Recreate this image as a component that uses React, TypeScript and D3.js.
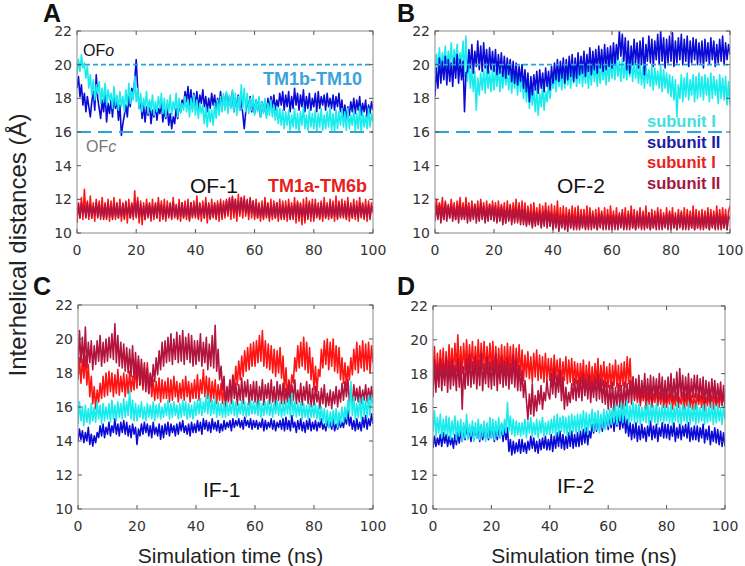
import React from 'react';
import * as d3 from 'd3';

// ---------- data (Å), sampled every 0.5 ns, t = 0..100 ----------
const Y_TICKS = [10, 12, 14, 16, 18, 20, 22];
const X_TICKS = [0, 20, 40, 60, 80, 100];
const OF_OPEN = 20;
const OF_CLOSED = 16;

// OF-1
const A_cyan = [19.4,20.3,19.6,20.6,19.8,20.1,19.2,19.9,18.6,19.4,18.2,19.1,17.9,18.8,18.3,19.0,17.7,18.6,17.8,18.9,
17.6,18.5,17.9,18.3,17.4,18.7,17.6,18.2,17.3,18.4,17.5,18.1,17.2,18.5,17.6,18.9,17.7,18.4,17.9,19.3,
17.8,18.6,17.4,18.3,17.2,18.0,17.5,18.4,17.1,17.9,17.3,18.2,17.0,17.8,17.2,18.1,17.4,18.3,17.1,18.0,
16.9,17.9,17.2,18.2,17.0,17.8,17.3,18.3,16.9,18.0,17.1,17.7,17.3,18.1,17.2,17.9,16.9,18.0,17.2,18.2,
17.0,17.9,16.8,17.7,17.1,17.6,16.5,17.5,16.3,17.4,16.6,17.3,16.4,17.7,16.8,17.9,17.0,18.1,17.2,18.3,
17.3,18.4,17.1,18.2,17.4,18.5,17.2,18.3,17.0,18.1,17.3,18.8,17.4,18.6,17.2,18.3,17.1,18.0,17.3,18.2,
17.0,17.9,17.2,18.1,16.9,17.8,17.1,18.0,16.8,17.7,17.0,17.9,16.9,17.6,16.7,17.5,16.5,17.4,16.4,17.3,
16.2,17.2,16.4,17.3,16.1,17.0,16.3,17.4,16.2,17.1,16.0,17.2,16.4,17.5,16.2,17.0,16.1,17.3,16.3,17.1,
16.2,17.3,16.0,17.1,16.3,17.4,16.1,17.0,16.2,17.2,16.3,17.5,16.1,17.1,16.0,17.3,16.2,17.2,16.4,17.4,
16.3,17.2,16.1,17.4,16.2,17.0,16.4,17.3,16.1,17.1,16.2,17.5,16.0,17.2,16.3,17.0,16.2,17.4,16.3,17.1,
16.6];
const A_blue = [18.6,19.3,18.1,18.8,17.6,18.3,17.2,18.1,17.5,16.9,17.8,18.4,17.3,19.4,18.0,17.4,16.8,17.9,17.2,18.3,
16.6,17.7,17.1,17.9,16.9,18.2,17.4,18.0,16.7,17.6,15.8,16.5,17.0,17.6,16.9,18.1,17.5,18.6,18.2,19.1,
20.3,18.6,17.4,17.9,16.8,17.6,16.6,17.5,17.0,17.8,16.5,17.3,16.9,17.6,16.7,17.4,17.1,17.8,16.6,17.3,
16.8,17.5,16.4,17.1,16.2,16.9,16.5,17.4,16.8,17.7,17.2,17.9,17.5,18.4,17.8,18.7,17.6,18.5,17.4,18.3,
17.6,18.4,17.3,18.2,17.7,18.5,17.5,18.1,17.2,18.0,17.4,18.3,17.6,18.2,17.3,18.0,17.5,18.4,17.4,18.1,
17.6,18.3,17.3,18.1,17.5,18.4,17.2,18.0,17.4,18.2,17.3,17.9,17.1,16.2,17.2,17.9,17.4,18.1,17.2,17.8,
17.1,17.9,17.3,18.0,16.9,17.8,17.2,17.9,17.0,18.0,17.3,18.1,17.4,18.2,17.3,17.9,17.5,18.3,17.6,18.4,
17.3,18.2,17.5,18.4,17.2,18.1,17.4,18.6,17.6,18.3,17.3,18.2,17.5,18.5,17.2,18.1,17.4,18.3,17.3,18.0,
17.5,18.3,17.2,18.4,17.4,18.1,17.6,18.2,17.3,18.3,17.5,18.0,17.4,18.2,17.3,18.1,17.5,18.3,17.2,17.9,
16.9,17.6,16.7,17.5,17.0,17.8,17.2,18.0,17.1,17.9,17.3,18.1,17.0,17.7,17.2,17.9,16.9,17.6,17.1,17.8,
17.3];
const A_red = [10.6,11.8,10.9,12.1,10.8,12.6,11.0,11.9,10.8,12.2,10.9,11.8,10.7,12.0,11.0,11.9,10.8,12.1,10.9,11.8,
10.8,12.0,10.7,11.9,10.9,12.1,10.8,11.7,10.9,12.0,10.7,11.8,10.8,11.9,10.6,12.0,10.9,11.8,10.8,12.5,
10.9,12.1,10.6,11.9,10.5,11.8,10.8,12.0,10.9,11.7,10.7,12.0,10.8,11.8,10.9,12.1,10.7,11.9,10.8,12.0,
10.7,11.9,10.9,11.8,10.8,12.1,10.9,11.7,10.8,12.0,10.7,11.8,10.9,11.9,10.8,12.0,10.7,11.8,10.9,11.9,
10.9,12.2,10.8,11.8,10.7,11.9,10.9,12.1,10.6,11.8,10.8,12.0,10.9,11.7,10.8,11.9,10.7,12.0,10.8,11.9,
10.9,12.0,11.0,12.1,10.8,12.2,10.9,12.0,10.7,12.3,11.0,12.1,10.9,12.2,11.0,12.0,10.8,12.1,10.9,11.9,
10.8,12.0,10.9,11.8,10.7,11.9,10.8,12.1,10.9,11.8,10.7,12.0,10.8,11.9,10.9,11.8,10.7,12.0,10.8,11.9,
10.8,11.9,10.7,12.0,10.9,11.8,10.8,12.1,10.6,11.9,10.7,11.8,10.5,12.0,10.6,12.1,10.8,11.9,10.7,12.0,
10.7,12.0,10.9,11.8,10.8,11.9,10.7,12.1,10.9,11.8,10.8,12.0,10.9,11.9,10.7,12.2,10.8,11.9,10.9,12.0,
10.9,11.9,10.8,12.1,10.7,11.8,10.9,12.0,10.8,11.9,10.7,12.1,10.9,11.8,10.8,12.0,10.7,11.9,10.8,11.8,
11.2];
const A_darkred = [11.0,11.7,10.9,11.8,11.1,11.6,10.9,11.8,11.0,11.7,10.9,11.6,11.1,11.8,10.9,11.7,11.0,11.6,10.8,11.7,
10.9,11.8,11.0,11.6,10.8,11.7,11.0,11.8,10.9,11.6,11.0,11.7,10.9,11.8,11.1,11.6,10.9,11.7,11.0,11.8,
11.0,11.9,10.9,11.7,11.0,11.6,10.8,11.7,11.0,11.8,10.9,11.6,11.0,11.7,10.9,11.8,11.1,11.7,10.9,11.6,
10.9,11.6,11.0,11.7,10.9,11.8,11.0,11.6,10.9,11.7,11.0,11.8,10.9,11.6,11.0,11.7,10.8,11.8,11.0,11.6,
11.0,11.8,10.9,11.7,11.1,11.6,10.9,11.8,11.0,11.7,10.9,11.6,11.0,11.8,10.9,11.7,11.1,11.8,11.0,11.7,
11.1,11.9,11.2,12.0,11.3,12.1,11.2,12.0,11.1,11.9,11.2,12.1,11.3,12.0,11.2,11.9,11.1,12.0,11.2,11.9,
11.0,11.8,10.9,11.7,11.0,11.6,10.9,11.8,11.0,11.7,10.9,11.6,11.0,11.7,10.9,11.8,11.0,11.6,10.9,11.7,
10.9,11.6,11.0,11.7,10.8,11.6,10.9,11.7,11.0,11.8,10.9,11.7,11.0,11.6,10.8,11.7,10.9,11.8,11.0,11.7,
10.9,11.7,11.0,11.6,10.9,11.8,11.0,11.7,10.9,11.6,11.0,11.8,10.9,11.7,11.0,11.6,10.9,11.8,11.0,11.7,
11.0,11.7,10.9,11.8,11.0,11.6,10.9,11.7,11.0,11.6,10.9,11.8,11.0,11.7,10.9,11.6,11.0,11.7,10.9,11.6,
11.3];

// OF-2
const B_cyan = [19.5,20.6,19.8,21.0,19.6,20.7,20.0,21.1,19.7,20.8,19.9,21.3,19.6,20.9,20.1,21.2,19.8,20.7,20.0,21.4,
19.3,21.7,19.0,20.3,18.6,19.8,18.4,19.6,17.3,19.2,18.2,19.5,18.5,19.7,18.3,19.9,18.6,19.6,18.4,19.8,
18.5,19.7,18.7,19.9,18.4,19.6,18.6,19.8,18.8,19.6,18.5,19.7,18.3,19.5,18.6,19.4,18.2,19.5,18.4,19.3,
18.0,19.1,17.8,18.9,17.4,18.7,17.6,18.5,17.2,18.6,17.0,18.3,17.5,18.8,17.3,18.4,17.8,18.9,18.0,19.0,
18.6,19.5,18.4,19.7,18.7,19.6,18.5,19.8,18.6,19.9,18.8,19.7,18.6,19.8,18.9,20.0,18.7,19.8,18.9,20.1,
18.7,19.8,18.9,20.1,18.6,19.9,18.8,20.2,19.0,20.0,18.7,19.9,18.9,20.2,19.1,20.0,18.8,20.1,19.0,20.3,
19.2,20.3,19.1,20.5,19.3,20.2,19.0,20.4,19.2,20.1,19.1,20.3,19.3,20.4,19.0,20.2,19.2,20.0,18.9,20.1,
18.8,19.9,18.6,20.0,18.9,19.7,18.7,19.9,18.5,19.8,18.8,19.6,18.6,19.9,18.4,19.7,18.6,19.5,18.3,19.4,
18.1,19.3,17.9,19.1,16.9,18.8,18.0,19.4,17.8,19.2,18.1,19.5,17.9,19.1,18.2,19.4,17.8,19.3,18.0,19.5,
18.1,19.3,17.9,19.4,18.2,19.2,17.8,19.5,18.0,19.3,18.2,19.1,17.7,19.4,18.0,19.2,17.9,19.3,17.6,19.0,
17.6];
const B_blue = [18.1,19.8,18.6,20.4,18.9,20.2,19.1,20.5,18.8,20.3,19.0,20.1,18.7,20.4,19.2,20.6,18.9,20.3,19.1,20.2,
17.2,19.5,19.6,20.9,19.8,21.2,19.5,20.8,19.9,21.4,19.7,21.1,19.6,21.3,19.8,20.9,19.5,21.0,19.7,20.8,
19.6,20.9,19.4,20.6,19.5,20.7,19.3,20.5,19.2,20.4,19.4,20.3,19.0,20.2,18.9,20.1,18.8,19.9,19.0,20.0,
18.6,19.7,18.4,19.5,17.8,19.3,18.2,19.4,18.5,19.6,18.3,19.7,18.6,19.5,18.4,19.8,18.7,19.6,18.5,19.9,
18.9,20.1,19.1,20.3,19.0,20.2,19.2,20.4,18.9,20.3,19.1,20.5,19.3,20.6,19.0,20.4,19.2,20.7,19.4,20.5,
19.5,20.8,19.3,20.6,19.6,21.0,19.4,20.8,19.7,20.9,19.5,21.1,19.8,20.9,19.6,21.2,19.7,21.0,19.9,21.1,
19.8,21.3,20.0,21.2,20.3,22.0,20.5,21.8,20.2,21.6,19.7,21.4,19.5,21.1,20.0,21.5,20.1,21.3,19.8,21.4,
20.0,21.6,19.4,21.2,20.2,21.7,20.1,21.5,19.9,21.4,20.3,21.8,20.0,22.0,20.2,21.6,19.8,21.5,20.1,21.7,
20.2,21.9,19.9,21.4,20.1,21.6,20.3,21.8,20.0,21.5,20.2,21.7,19.9,21.4,20.1,21.6,20.3,21.5,20.0,21.3,
20.1,21.4,19.8,21.5,20.2,21.3,20.0,21.6,20.3,21.4,19.9,21.2,20.1,21.5,20.2,21.7,20.0,21.3,20.3,21.2,
20.6];
const B_red = [11.3,12.0,10.9,11.8,11.1,12.1,10.8,11.9,11.0,11.7,10.9,12.0,11.1,11.8,10.8,11.9,11.0,12.1,10.9,11.8,
10.9,12.1,11.0,11.8,10.8,11.9,10.9,11.7,11.0,11.9,10.8,12.0,10.9,11.8,10.7,11.9,10.9,11.7,10.8,11.9,
10.9,11.8,10.7,11.9,10.8,11.7,10.9,11.8,10.6,11.9,10.8,11.7,10.7,11.8,10.9,12.0,10.6,11.8,10.7,11.9,
10.7,11.8,10.5,11.6,10.6,11.7,10.4,11.8,10.6,11.5,10.5,11.7,10.4,11.6,10.6,11.8,10.5,11.6,10.4,11.7,
10.3,11.6,10.5,11.9,10.2,11.5,10.4,11.6,10.3,11.5,10.5,11.4,10.3,11.6,10.4,11.5,10.2,11.6,10.3,11.4,
10.4,11.4,10.3,11.6,10.2,11.5,10.4,11.3,10.3,11.4,10.2,11.5,10.4,11.3,10.3,11.5,10.2,11.4,10.3,11.6,
10.4,11.3,10.2,11.5,10.3,11.2,10.4,11.4,10.3,11.5,10.2,11.3,10.4,11.6,10.3,11.4,10.2,11.3,10.4,11.5,
10.2,11.3,10.4,11.6,10.3,11.2,10.2,11.4,10.3,11.3,10.4,11.5,10.2,11.4,10.3,11.2,10.4,11.5,10.3,11.3,
10.4,11.5,10.3,11.2,10.2,11.4,10.4,11.3,10.3,11.5,10.2,11.4,10.4,11.3,10.3,11.6,10.2,11.4,10.3,11.3,
10.2,11.4,10.4,11.3,10.3,11.5,10.2,11.4,10.4,11.3,10.3,11.6,10.2,11.4,10.4,11.5,10.3,11.4,10.2,11.3,
11.6];
const B_darkred = [10.7,11.6,10.8,11.7,10.6,11.5,10.8,11.8,10.7,11.6,10.9,11.7,10.7,11.5,10.8,11.6,10.6,11.7,10.8,11.5,
10.8,11.7,10.6,11.5,10.7,11.6,10.8,11.7,10.6,11.5,10.7,11.8,10.8,11.6,10.6,11.5,10.7,11.7,10.8,11.6,
10.7,11.6,10.6,11.5,10.7,11.6,10.5,11.4,10.6,11.5,10.7,11.6,10.5,11.4,10.6,11.5,10.7,11.6,10.5,11.4,
10.5,11.4,10.4,11.3,10.5,11.2,10.3,11.3,10.4,11.2,10.5,11.3,10.3,11.2,10.4,11.4,10.3,11.3,10.4,11.2,
10.2,11.1,10.3,11.2,10.1,11.0,10.3,11.1,10.2,11.0,10.1,11.2,10.3,11.1,10.2,11.0,10.3,11.2,10.2,11.1,
10.3,11.1,10.2,11.0,10.3,11.2,10.2,11.1,10.3,11.0,10.2,11.1,10.3,11.2,10.2,11.0,10.3,11.1,10.2,11.0,
10.2,11.1,10.3,11.0,10.2,11.1,10.3,11.2,10.2,11.0,10.3,11.1,10.2,11.2,10.3,11.0,10.2,11.1,10.3,11.2,
10.3,11.1,10.2,11.0,10.3,11.2,10.2,11.1,10.3,11.0,10.2,11.2,10.3,11.1,10.2,11.0,10.3,11.1,10.2,11.2,
10.2,11.1,10.3,11.0,10.2,11.1,10.3,11.2,10.2,11.0,10.3,11.1,10.2,11.0,10.3,11.2,10.2,11.1,10.3,11.0,
10.3,11.1,10.2,11.0,10.3,11.2,10.2,11.1,10.3,11.0,10.2,11.2,10.3,11.1,10.2,11.0,10.3,11.1,10.2,11.0,
10.8];

// IF-1
const C_cyan = [15.0,16.3,15.2,16.0,14.9,16.1,15.1,15.9,15.0,16.2,15.2,16.0,15.1,16.3,15.3,16.1,15.0,16.2,15.2,16.0,
15.3,16.2,15.1,16.4,15.3,16.1,15.2,16.3,15.4,16.2,15.3,16.5,15.4,16.3,15.5,17.0,15.3,16.4,15.2,16.2,
15.2,16.1,15.4,16.3,15.3,16.0,15.2,16.2,15.4,16.1,15.3,16.3,15.2,16.1,15.4,16.2,15.3,16.0,15.4,16.2,
15.5,16.4,15.3,16.2,15.4,16.3,15.5,16.1,15.3,16.2,15.4,16.4,15.5,16.3,15.3,16.2,15.4,16.1,15.3,16.3,
15.5,16.4,15.6,16.5,15.5,16.3,15.7,16.8,15.6,16.6,15.5,16.4,15.6,16.5,15.4,16.3,15.5,16.2,15.4,16.3,
15.4,16.3,15.5,16.2,15.6,16.4,15.5,16.3,15.4,16.2,15.6,16.4,15.5,16.3,15.4,16.2,15.5,16.4,15.6,16.3,
15.6,16.3,15.5,16.4,15.4,16.2,15.5,16.3,15.6,16.4,15.5,16.2,15.4,16.3,15.6,16.4,15.5,16.3,15.4,16.2,
15.5,16.4,15.6,16.5,15.4,16.8,15.5,16.3,15.4,16.2,15.5,16.3,15.3,16.2,15.4,16.1,15.3,16.2,15.4,16.1,
15.4,16.2,15.3,16.1,15.2,16.0,15.1,15.9,14.9,15.8,14.8,15.7,14.9,15.8,15.0,15.9,14.8,15.7,15.0,16.0,
15.1,16.0,15.3,16.4,15.6,17.5,15.5,16.6,15.3,16.2,15.4,16.5,15.3,16.6,15.5,16.4,15.4,16.7,15.5,16.6,
16.2];
const C_blue = [14.0,14.7,14.1,14.6,13.9,14.5,14.0,14.8,13.8,14.4,13.7,14.3,13.9,14.5,14.2,14.9,14.3,15.0,14.2,14.8,
14.4,15.1,14.3,14.9,14.5,15.3,14.4,15.0,14.3,15.1,14.5,15.2,14.4,15.1,14.3,14.9,14.2,15.0,14.4,14.8,
13.8,14.7,14.3,15.0,14.4,15.1,14.5,15.0,14.3,14.9,14.2,15.1,14.4,14.8,14.3,15.0,14.1,14.9,14.2,15.0,
14.4,15.1,14.3,15.0,14.5,14.9,14.3,15.0,14.4,15.1,14.6,15.2,14.5,14.9,14.4,15.0,14.3,15.1,14.5,15.0,
14.5,15.2,14.6,15.1,14.4,15.3,14.7,15.2,14.6,15.1,14.5,15.3,14.7,15.1,14.6,15.2,14.5,15.0,14.6,15.2,
14.7,15.1,14.8,15.2,14.6,15.3,14.8,15.2,14.9,15.3,14.8,15.2,14.7,15.4,14.9,15.2,14.8,15.3,14.7,15.2,
14.8,15.2,14.7,15.1,14.8,15.3,14.6,15.2,14.7,15.1,14.8,15.3,14.7,15.2,14.6,15.1,14.8,15.2,14.7,15.3,
14.6,15.4,14.7,15.2,14.6,15.5,14.8,15.1,14.5,15.2,14.7,15.3,14.6,15.1,14.5,15.2,14.7,15.3,14.6,15.1,
14.7,15.2,14.6,15.1,14.8,15.3,14.7,15.0,14.6,15.2,14.8,15.1,14.7,15.3,14.6,15.0,14.7,15.2,14.8,15.1,
14.8,15.4,15.0,15.8,14.9,15.4,14.7,15.2,14.6,15.3,14.7,15.1,14.6,15.4,14.8,15.5,14.7,15.3,14.9,15.6,
15.0];
const C_red = [17.6,18.9,17.4,18.8,17.7,19.0,17.3,18.5,16.6,17.8,16.2,17.2,15.9,17.0,16.3,17.4,16.5,17.8,16.6,18.0,
16.7,18.1,16.9,18.0,16.6,17.9,16.8,18.2,16.7,17.8,16.9,18.0,16.6,17.9,16.8,18.1,16.9,17.8,17.0,18.3,
17.1,18.8,17.3,18.5,17.0,18.3,17.2,18.6,16.8,17.9,16.6,17.6,16.4,17.5,16.5,17.7,16.3,17.6,16.5,17.5,
16.5,17.7,16.3,17.6,16.4,17.8,16.6,17.5,16.3,17.4,16.5,17.6,16.4,17.8,16.6,17.5,16.3,17.4,16.5,17.6,
16.5,17.9,16.4,17.6,16.8,18.2,16.6,17.8,16.5,17.7,16.3,17.5,16.5,17.6,16.2,17.3,16.4,17.4,16.2,17.2,
16.1,17.1,16.3,17.5,16.6,17.9,17.0,18.4,17.3,18.7,17.6,19.0,17.8,19.3,18.1,19.5,18.2,19.7,18.4,19.8,
18.4,19.9,18.6,20.2,18.7,20.5,18.4,19.9,18.3,19.7,18.2,19.6,18.0,19.4,17.8,19.3,18.0,19.5,17.7,19.0,
16.9,18.3,16.5,17.6,16.7,17.9,17.4,18.9,18.1,19.6,18.3,19.8,18.4,20.1,18.2,19.8,18.0,19.5,17.6,18.9,
17.0,18.4,16.9,18.2,17.8,19.4,18.3,19.9,18.5,20.0,18.2,19.8,18.4,20.0,18.1,19.6,18.0,19.5,17.6,18.9,
17.4,18.6,17.2,18.4,17.6,18.9,17.9,19.4,18.2,19.8,18.0,19.6,18.3,19.9,18.1,19.7,18.2,19.8,18.0,19.6,
18.6];
const C_darkred = [18.2,20.5,18.6,20.1,18.4,20.7,18.3,19.8,18.6,19.9,18.2,19.6,18.5,19.9,18.7,20.2,18.4,19.8,18.6,20.0,
18.7,20.1,18.9,20.3,18.8,20.9,18.6,20.2,18.4,19.8,18.3,19.7,18.1,19.5,18.0,19.4,17.8,19.6,17.7,19.2,
17.6,19.0,17.3,18.8,17.2,18.6,16.9,18.3,16.8,18.0,17.2,18.5,17.5,18.9,17.9,19.3,18.2,19.8,18.4,19.9,
18.6,20.1,18.7,20.3,18.5,20.0,18.8,20.4,18.6,20.2,18.7,20.5,18.5,20.1,18.8,20.3,18.6,20.2,18.4,19.9,
18.5,19.9,18.7,20.3,18.4,19.8,18.6,20.1,18.2,19.7,18.4,20.2,18.3,20.8,18.1,19.4,17.6,18.4,17.0,17.8,
16.0,17.2,16.4,17.6,16.2,17.8,16.5,17.4,16.1,17.3,16.4,17.7,16.2,17.5,16.6,17.6,16.1,17.3,16.4,17.5,
16.3,17.5,16.0,17.2,16.4,17.6,16.1,17.3,16.5,17.4,16.2,17.6,16.3,17.2,16.0,17.5,16.4,17.3,16.2,17.4,
16.2,17.1,16.3,17.5,16.0,17.3,16.4,17.6,16.2,17.0,16.3,17.4,16.1,17.2,16.4,17.5,16.2,17.3,16.0,17.1,
16.1,17.2,16.3,16.9,15.9,17.1,16.2,17.3,16.0,16.8,16.1,17.0,15.9,16.9,16.2,17.2,16.0,17.0,16.3,17.4,
16.4,17.5,16.6,17.6,16.3,17.0,16.2,17.3,16.4,17.1,16.3,17.2,16.2,17.0,16.4,17.3,16.3,17.1,16.4,17.2,
16.5];

// IF-2
const D_cyan = [14.6,15.8,14.3,15.4,14.5,15.6,14.2,15.3,14.4,15.5,14.3,15.4,14.1,15.2,14.4,15.5,14.1,15.2,14.3,15.3,
14.0,15.1,14.2,15.6,14.1,15.0,14.3,15.2,14.0,15.1,14.2,15.3,14.1,15.0,14.3,15.2,14.0,15.1,14.2,15.4,
14.2,15.3,14.1,15.2,14.3,15.4,14.2,15.1,14.4,15.3,14.5,16.3,14.6,15.5,14.4,15.3,14.3,15.2,14.4,15.1,
14.3,15.1,14.4,15.3,14.2,15.2,14.5,15.4,14.3,15.1,14.4,15.3,14.2,15.2,14.5,15.4,14.3,15.1,14.4,15.2,
14.4,15.3,14.5,15.5,14.3,15.6,14.4,15.4,14.6,15.5,14.5,15.4,14.3,15.5,14.4,15.6,14.6,15.5,14.5,15.6,
14.5,15.6,14.7,15.8,14.6,15.7,14.4,15.6,14.8,15.9,14.6,15.7,14.7,15.8,14.5,15.6,14.8,15.9,14.7,15.8,
14.9,15.9,15.0,16.0,15.1,16.2,15.0,16.1,15.2,16.3,15.1,16.2,15.3,16.4,15.0,16.1,15.2,16.3,15.1,16.2,
15.1,16.2,15.0,16.0,15.2,16.1,15.1,16.3,15.0,16.2,15.2,16.1,15.1,16.3,15.0,16.0,15.2,16.2,15.1,16.1,
15.2,16.1,15.1,16.2,15.0,16.0,15.2,16.3,15.1,16.1,15.0,16.2,15.2,16.1,15.1,16.3,15.0,16.0,15.2,16.2,
15.0,16.2,15.1,16.0,15.2,16.1,15.0,16.2,15.1,16.0,15.2,16.3,15.0,16.1,15.1,16.2,15.2,16.0,15.0,16.1,
15.3];
const D_blue = [13.6,14.3,13.7,14.2,13.8,14.4,13.7,14.5,13.9,14.4,13.7,14.3,13.8,14.2,13.6,14.4,13.8,14.5,13.9,14.6,
14.0,14.9,14.1,15.0,14.2,14.8,14.0,14.9,14.1,14.8,14.2,15.0,14.0,14.9,14.1,14.8,14.2,15.0,14.1,14.9,
14.2,15.0,14.0,14.9,14.1,14.8,14.2,15.0,14.0,14.9,14.1,14.8,13.4,14.1,13.2,14.0,13.3,13.9,13.4,14.1,
13.3,14.1,13.4,13.9,13.3,14.0,13.5,14.3,13.6,14.2,13.4,14.0,13.3,14.1,13.5,14.2,13.6,14.3,13.5,14.1,
13.5,14.4,13.4,14.3,13.6,14.5,13.7,14.6,13.6,14.4,13.5,14.3,13.6,14.5,13.7,14.6,13.6,14.4,13.7,14.5,
13.7,14.6,13.8,14.7,13.9,14.8,13.8,14.6,14.2,15.0,14.5,15.4,14.6,15.5,14.7,15.3,14.6,15.5,14.8,15.6,
14.7,15.6,14.8,15.8,14.6,15.5,14.9,15.7,14.7,15.6,14.8,15.5,14.5,15.3,14.3,15.1,14.1,15.0,14.2,15.1,
14.0,14.9,14.1,15.0,14.2,14.8,14.0,14.9,14.3,15.2,14.1,14.9,14.2,15.0,14.0,14.8,14.3,15.1,14.2,15.0,
14.2,15.0,14.1,14.9,14.3,15.1,14.0,14.8,14.2,15.0,14.1,14.9,14.3,15.0,14.2,15.1,14.0,14.8,14.1,14.9,
14.1,14.9,14.0,14.8,14.2,15.0,13.9,14.7,14.1,14.9,13.8,14.6,14.0,14.8,13.9,14.7,13.8,14.6,13.7,14.5,
13.7];
const D_red = [17.8,19.6,17.5,19.2,17.7,19.4,17.9,19.5,17.6,19.3,17.8,19.7,18.0,19.5,17.9,19.8,18.1,20.3,17.8,19.6,
18.0,19.8,18.2,20.0,18.1,19.7,18.3,19.9,18.0,19.6,18.2,20.0,18.1,19.8,18.3,19.9,18.0,19.6,18.2,19.8,
18.2,19.9,18.0,19.6,17.9,19.5,18.1,19.7,17.8,19.6,18.0,19.8,18.1,19.6,17.9,19.7,17.8,19.5,18.0,19.7,
17.9,19.4,17.6,19.1,17.8,19.3,17.7,19.0,17.5,19.2,17.8,19.4,17.6,19.1,17.7,19.0,17.5,19.2,17.6,18.9,
17.6,18.9,17.4,19.1,17.7,18.8,17.5,18.9,17.3,18.7,17.6,19.0,17.4,18.8,17.5,18.9,17.3,18.7,17.4,18.6,
17.2,18.6,17.4,18.8,17.1,18.5,17.3,18.7,17.0,18.4,17.2,18.6,17.4,18.9,17.1,18.5,17.3,18.7,17.2,18.4,
17.2,18.6,17.1,18.5,17.3,18.8,17.2,18.5,17.0,18.6,17.3,18.7,17.2,19.0,17.4,18.9,16.8,17.8,16.5,17.4,
16.3,17.2,16.1,17.0,16.4,17.1,15.9,16.9,16.2,17.0,16.0,16.8,16.3,17.1,16.1,16.9,16.2,17.0,16.0,16.8,
16.0,16.8,16.2,17.0,15.9,16.7,16.1,16.9,16.0,16.6,16.2,16.9,15.9,16.8,16.1,17.0,16.0,16.7,15.9,16.8,
15.9,16.8,16.2,16.7,16.0,16.9,15.8,16.6,16.1,16.8,16.0,16.7,15.9,16.9,16.1,16.6,16.0,16.8,16.2,16.7,
16.2];
const D_darkred = [16.6,18.8,16.9,18.5,17.2,18.9,17.0,18.6,17.3,19.0,16.9,18.7,17.1,18.8,17.3,18.5,17.0,18.9,17.2,18.7,
15.9,18.4,17.1,18.9,17.3,19.1,17.2,18.7,17.4,19.0,17.1,18.8,17.3,19.2,17.0,18.6,17.4,19.0,17.2,18.7,
17.1,18.8,17.3,19.2,17.0,18.6,17.4,19.0,17.2,18.7,17.3,18.9,17.1,18.6,17.4,19.1,17.2,18.8,17.0,18.5,
17.0,18.2,16.6,17.6,16.4,15.3,16.8,15.6,17.4,15.5,16.7,15.8,17.0,16.2,17.3,15.9,16.9,16.4,17.6,16.8,
16.5,18.0,16.8,18.3,16.6,17.9,16.9,18.2,16.4,17.8,15.9,17.2,16.1,16.9,16.3,17.4,16.5,17.7,16.4,17.6,
16.6,17.8,16.4,18.0,16.7,17.7,16.5,17.9,16.3,17.6,16.6,17.8,16.4,18.0,16.5,17.7,16.3,17.6,16.2,17.5,
15.9,17.3,16.0,17.5,15.8,17.2,16.1,17.4,16.0,17.3,15.9,17.5,16.1,17.4,16.3,17.6,16.2,17.8,16.4,17.7,
16.5,17.9,16.3,17.6,16.6,18.0,16.4,17.7,16.5,17.9,16.3,17.8,16.6,17.7,16.4,18.0,16.5,17.8,16.3,17.6,
16.3,17.8,16.6,18.0,16.4,17.7,16.5,18.1,16.3,18.3,16.6,17.9,16.4,17.8,16.5,18.0,16.3,17.7,16.6,17.9,
16.6,17.9,16.4,17.7,16.5,17.8,16.2,17.6,16.4,17.5,16.3,17.7,16.5,17.6,16.2,17.4,16.4,17.5,16.1,17.3,
16.0];

// ---------- styles ----------
const C_CYAN = '#19ECEC';
const C_BLUE = '#0B0BD6';
const C_RED = '#FF1414';
const C_DARKRED = '#B3143D';
const DASH_COLOR = '#2BA3DB';
const TICK_FONT = '"DejaVu Sans", sans-serif';
const LABEL_FONT = '"Liberation Sans", Arial, sans-serif';

type Panel = {
  id: string;
  letter: string;
  x0: number; x1: number; y0: number; y1: number;
  series: { values: number[]; color: string }[];
  dashed: boolean;
  xLabel: boolean;
  letterX: number; letterY: number;
};

const PANELS: Panel[] = [
  { id: 'A', letter: 'A', x0: 77, x1: 373, y0: 31, y1: 233, dashed: true, xLabel: false, letterX: 43, letterY: 22,
    series: [{ values: A_red, color: C_RED }, { values: A_darkred, color: C_DARKRED }, { values: A_blue, color: C_BLUE }, { values: A_cyan, color: C_CYAN }] },
  { id: 'B', letter: 'B', x0: 435, x1: 730, y0: 31, y1: 233, dashed: true, xLabel: false, letterX: 397, letterY: 22,
    series: [{ values: B_red, color: C_RED }, { values: B_darkred, color: C_DARKRED }, { values: B_cyan, color: C_CYAN }, { values: B_blue, color: C_BLUE }] },
  { id: 'C', letter: 'C', x0: 78, x1: 373, y0: 305, y1: 509, dashed: false, xLabel: true, letterX: 33, letterY: 295,
    series: [{ values: C_red, color: C_RED }, { values: C_darkred, color: C_DARKRED }, { values: C_blue, color: C_BLUE }, { values: C_cyan, color: C_CYAN }] },
  { id: 'D', letter: 'D', x0: 433, x1: 725, y0: 306, y1: 509, dashed: false, xLabel: true, letterX: 397, letterY: 295,
    series: [{ values: D_red, color: C_RED }, { values: D_darkred, color: C_DARKRED }, { values: D_blue, color: C_BLUE }, { values: D_cyan, color: C_CYAN }] },
];

function PanelView({ p }: { p: Panel }) {
  const x = d3.scaleLinear().domain([0, 100]).range([p.x0, p.x1]);
  const y = d3.scaleLinear().domain([10, 22]).range([p.y1, p.y0]);
  const tl = 4;
  return (
    <g>
      <defs>
        <clipPath id={`clip-${p.id}`}>
          <rect x={p.x0} y={p.y0} width={p.x1 - p.x0} height={p.y1 - p.y0} />
        </clipPath>
      </defs>
      <g clipPath={`url(#clip-${p.id})`}>
        {p.series.map((s, i) => {
          const step = 100 / (s.values.length - 1);
          const line = d3.line<number>().x((_, j) => x(j * step)).y((v) => y(v));
          return <path key={i} d={line(s.values) || ''} fill="none" stroke={s.color} strokeWidth={1.6} strokeLinejoin="round" />;
        })}
        {p.dashed && (
          <>
            <line x1={p.x0} x2={p.x1} y1={y(OF_OPEN)} y2={y(OF_OPEN)} stroke={DASH_COLOR} strokeWidth={1.6} strokeDasharray="5 3" />
            <line x1={p.x0} x2={p.x1} y1={y(OF_CLOSED)} y2={y(OF_CLOSED)} stroke={DASH_COLOR} strokeWidth={2} strokeDasharray="14 7" />
          </>
        )}
      </g>
      <rect x={p.x0} y={p.y0} width={p.x1 - p.x0} height={p.y1 - p.y0} fill="none" stroke="#8a8a8a" strokeWidth={1} />
      {X_TICKS.map((t) => (
        <g key={`x${t}`}>
          <line x1={x(t)} x2={x(t)} y1={p.y1} y2={p.y1 - tl} stroke="#555" />
          <line x1={x(t)} x2={x(t)} y1={p.y0} y2={p.y0 + tl} stroke="#555" />
          <text x={x(t)} y={p.y1 + 22} textAnchor="middle" fontSize={14} fontFamily={TICK_FONT} fill="#333">{t}</text>
        </g>
      ))}
      {Y_TICKS.map((t) => (
        <g key={`y${t}`}>
          <line x1={p.x0} x2={p.x0 + tl} y1={y(t)} y2={y(t)} stroke="#555" />
          <line x1={p.x1} x2={p.x1 - tl} y1={y(t)} y2={y(t)} stroke="#555" />
          <text x={p.x0 - 5} y={y(t) + 5} textAnchor="end" fontSize={14} fontFamily={TICK_FONT} fill="#333">{t}</text>
        </g>
      ))}
      <text x={p.letterX} y={p.letterY} fontSize={25} fontWeight="bold" fontFamily={LABEL_FONT} fill="#111">{p.letter}</text>
      {p.xLabel && (
        <text x={(p.x0 + p.x1) / 2 + 5} y={563} textAnchor="middle" fontSize={21} fontFamily={LABEL_FONT} fill="#222">Simulation time (ns)</text>
      )}
    </g>
  );
}

export default function App() {
  return (
    <svg width={745} height={566} style={{ position: 'absolute', left: 0, top: 0, background: '#fff' }}>
      <rect x={0} y={0} width={745} height={566} fill="#fff" />
      {PANELS.map((p) => <PanelView key={p.id} p={p} />)}
      {/* Panel A annotations */}
      <text x={83} y={56} fontSize={16} fontFamily={LABEL_FONT} fill="#111">OF<tspan fontStyle="italic">o</tspan></text>
      <text x={86} y={152} fontSize={16} fontFamily={LABEL_FONT} fill="#777">OF<tspan fontStyle="italic">c</tspan></text>
      <text x={362} y={85} textAnchor="end" fontSize={18} fontWeight="bold" fontFamily={LABEL_FONT} fill="#3AA3DC">TM1b-TM10</text>
      <text x={190} y={193} fontSize={21} fontFamily={LABEL_FONT} fill="#111">OF-1</text>
      <text x={367} y={192} textAnchor="end" fontSize={18} fontWeight="bold" fontFamily={LABEL_FONT} fill="#E8201C">TM1a-TM6b</text>
      {/* Panel B annotations */}
      <text x={557} y={193} fontSize={21} fontFamily={LABEL_FONT} fill="#111">OF-2</text>
      <text x={647} y={127} fontSize={16.5} fontWeight="bold" fontFamily={LABEL_FONT} fill="#40E0E0">subunit I</text>
      <text x={647} y={148} fontSize={16.5} fontWeight="bold" fontFamily={LABEL_FONT} fill="#1C1CA6">subunit II</text>
      <text x={647} y={168} fontSize={16.5} fontWeight="bold" fontFamily={LABEL_FONT} fill="#E8231E">subunit I</text>
      <text x={647} y={189} fontSize={16.5} fontWeight="bold" fontFamily={LABEL_FONT} fill="#A5173F">subunit II</text>
      {/* Panel C / D annotations */}
      <text x={203} y={497} fontSize={21} fontFamily={LABEL_FONT} fill="#111">IF-1</text>
      <text x={557} y={493} fontSize={21} fontFamily={LABEL_FONT} fill="#111">IF-2</text>
      {/* shared y label */}
      <text transform="translate(26,245) rotate(-90)" textAnchor="middle" fontSize={24} fontFamily={LABEL_FONT} fill="#222">Interhelical distances (Å)</text>
    </svg>
  );
}
